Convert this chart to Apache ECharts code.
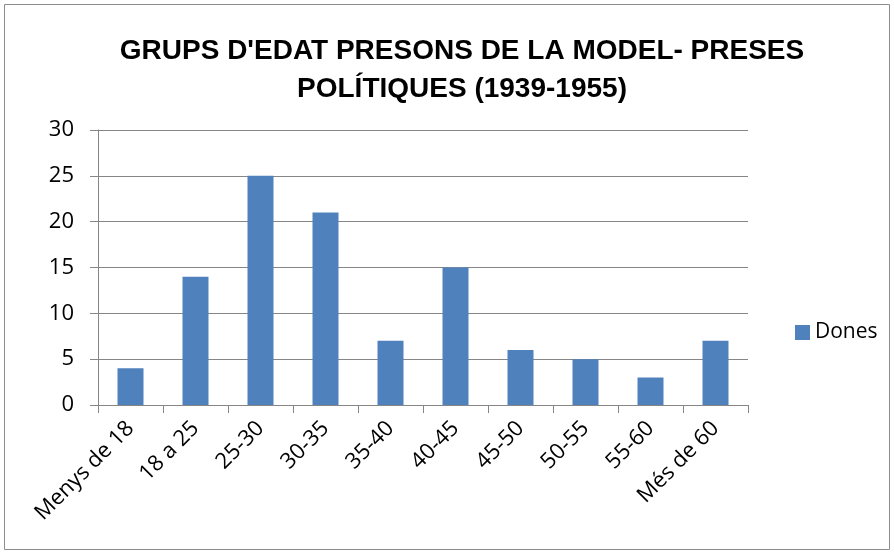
<!DOCTYPE html>
<html>
<head>
<meta charset="utf-8">
<script src="https://cdn.jsdelivr.net/npm/echarts@6/dist/echarts.min.js"></script>
<style>
  html, body { margin: 0; padding: 0; background: #fff; }
  #chart { width: 894px; height: 553px; }
</style>
</head>
<body>
<div id="chart"></div>
<script>
// age groups and counts
const categories = ['Menys de 18', '18 a 25', '25-30', '30-35', '35-40', '40-45', '45-50', '50-55', '55-60', 'Més de 60'];
const dones = [4, 14, 25, 21, 7, 15, 6, 5, 3, 7];
const yTicks = { min: 0, max: 30, interval: 5 };

const chart = echarts.init(document.getElementById('chart'), null, { renderer: 'canvas' });
const gridColor = '#868686';
const labelFont = '"Open Sans", "Noto Sans", sans-serif';

const option = {
  backgroundColor: '#fff',
  animation: false,
  title: {
    text: "GRUPS D'EDAT PRESONS DE LA MODEL- PRESES\nPOLÍTIQUES (1939-1955)",
    left: 457,
    textAlign: 'center',
    top: 27,
    textStyle: {
      fontFamily: '"Liberation Sans", Arial, sans-serif',
      fontWeight: 'bold',
      fontSize: 28,
      lineHeight: 38,
      color: '#000'
    }
  },
  graphic: [{
    type: 'rect',
    shape: { x: 4.5, y: 4.5, width: 885, height: 545 },
    style: { fill: 'none', stroke: '#8c8c8c', lineWidth: 1 },
    silent: true
  }],
  legend: {
    data: ['Dones'],
    orient: 'vertical',
    left: 790,
    top: 317,
    itemWidth: 15,
    itemHeight: 15,
    itemGap: 7,
    icon: 'rect',
    textStyle: { fontFamily: labelFont, fontSize: 21, color: '#000' }
  },
  grid: { left: 98, right: 146, top: 130, bottom: 148 },
  xAxis: {
    type: 'category',
    data: categories,
    axisLine: { lineStyle: { color: gridColor, width: 1 } },
    axisTick: { show: true, length: 8, alignWithLabel: false, lineStyle: { color: gridColor } },
    axisLabel: {
      rotate: 45,
      interval: 0,
      margin: 20,
      fontFamily: labelFont,
      fontSize: 22,
      color: '#000'
    }
  },
  yAxis: {
    type: 'value',
    min: yTicks.min,
    max: yTicks.max,
    interval: yTicks.interval,
    axisLine: { show: true, lineStyle: { color: gridColor, width: 1 } },
    axisTick: { show: true, length: 8, lineStyle: { color: gridColor } },
    splitLine: { show: true, lineStyle: { color: gridColor, width: 1 } },
    axisLabel: {
      margin: 24,
      fontFamily: labelFont,
      fontSize: 22,
      color: '#000'
    }
  },
  series: [{
    name: 'Dones',
    type: 'bar',
    data: dones,
    barWidth: '40%',
    itemStyle: { color: '#4F81BD' }
  }]
};

chart.setOption(option);
</script>
</body>
</html>
